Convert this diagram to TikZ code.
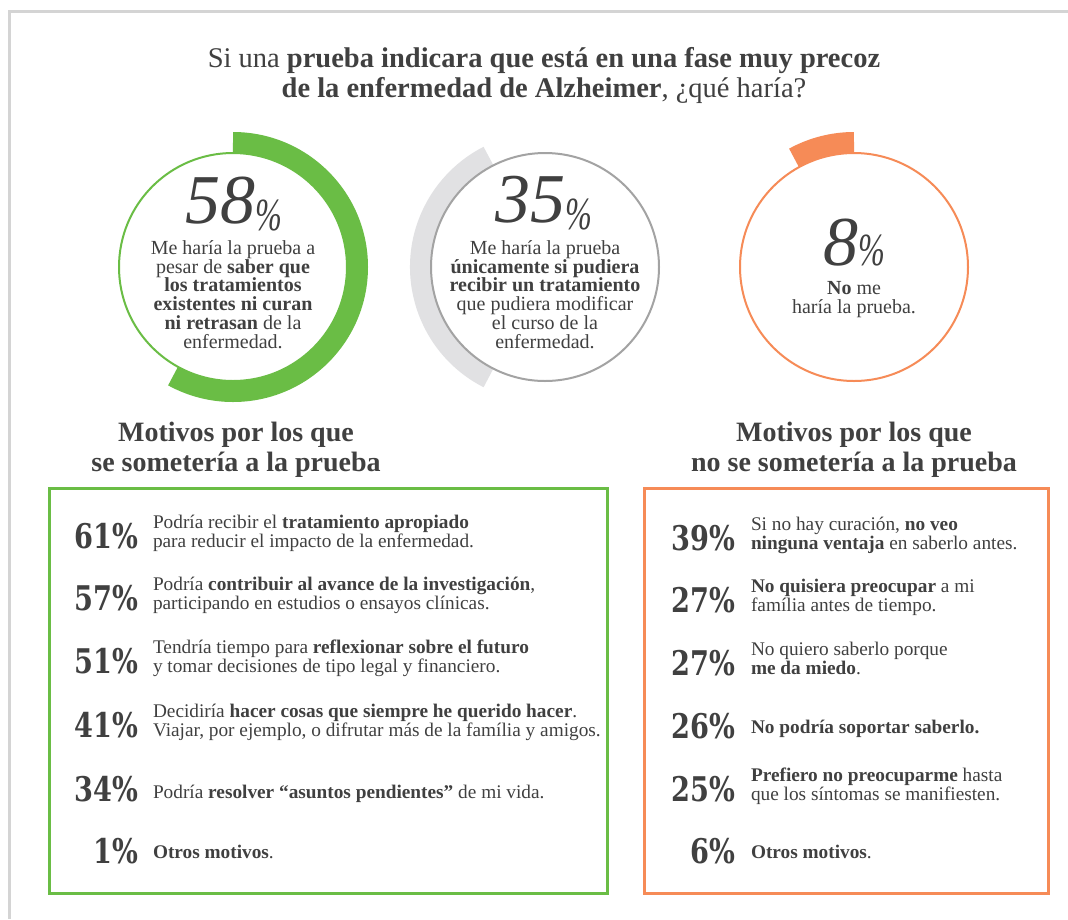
\documentclass[tikz,border=0pt]{standalone}
\usepackage{fontspec}
\setmainfont{Liberation Serif}
\newfontfamily\pctfont{DejaVu Serif}
\usepackage{graphicx}
\definecolor{txt}{HTML}{404040}
\definecolor{grn}{HTML}{6ABD45}
\definecolor{org}{HTML}{F68B57}
\definecolor{lgray}{HTML}{E1E1E3}
\definecolor{mgray}{HTML}{A3A3A3}
\definecolor{framec}{HTML}{D4D4D4}
\newcommand{\bigpct}[2][-7pt]{#2\raisebox{#1}{\scalebox{0.7}[1]{\fontsize{46}{46}\selectfont\%}}}
\newcommand{\lpct}[1]{\scalebox{0.8}[1]{\pctfont\bfseries\fontsize{34}{34}\selectfont #1\%}}
\begin{document}
\begin{tikzpicture}[x=1pt,y=-1pt,
  every node/.style={inner sep=0pt, outer sep=0pt, text=txt},
  titletxt/.style={font=\fontsize{28.5}{30}\selectfont, align=center, anchor=base},
  headtxt/.style={font=\bfseries\fontsize{28}{30}\selectfont, align=center, anchor=base},
  circtxt/.style={font=\fontsize{20}{18.7}\selectfont, align=center, anchor=base},
  bignum/.style={font=\itshape\fontsize{70}{70}\selectfont, anchor=base},
  pctnode/.style={anchor=base east},
  itemtxt/.style={font=\fontsize{19.3}{15.8}\selectfont, align=left, anchor=base west},
  thinring/.style={line width=2pt},
  band/.style={line width=21pt},
  boxline/.style={line width=3pt}
]
\useasboundingbox (0,0) rectangle (1068,919);
\fill[white] (0,0) rectangle (1068,919);
% frame
\coordinate (f1) at (1068,11);
\coordinate (f2) at (9,11);
\coordinate (f3) at (9,919);
\draw[framec, line width=3pt] (f1) -- (f2) -- (f3);

% title (anchor base = last line)
\node[titletxt] (title) at (544,97) {Si una \textbf{prueba indicara que está en una fase muy precoz}\\\textbf{de la enfermedad de Alzheimer}, ¿qué haría?};

% circles
\coordinate (c1) at (233,267);
\coordinate (c2) at (545,267);
\coordinate (c3) at (854,267);
\draw[grn, band] ([shift={(-90:124.5)}]c1) arc[start angle=-90, end angle=118.8, radius=124.5];
\draw[grn, thinring] (c1) circle[radius=114];
\draw[lgray, band] ([shift={(117:124.5)}]c2) arc[start angle=117, end angle=243, radius=124.5];
\draw[mgray, thinring] (c2) circle[radius=114];
\draw[org, band] ([shift={(-90:124.5)}]c3) arc[start angle=-90, end angle=-118.8, radius=124.5];
\draw[org, thinring] (c3) circle[radius=114];

\node[bignum] (n1) at (234,223) {\bigpct{58}};
\node[circtxt] (t1) at (233,348) {Me haría la prueba a\\pesar de \textbf{saber que}\\\textbf{los tratamientos}\\\textbf{existentes ni curan}\\\textbf{ni retrasan} de la\\enfermedad.};
\node[bignum] (n2) at (544,222) {\bigpct{35}};
\node[circtxt] (t2) at (545,348) {Me haría la prueba\\\textbf{únicamente si pudiera}\\\textbf{recibir un tratamiento}\\que pudiera modificar\\el curso de la\\enfermedad.};
\node[bignum] (n3) at (854,265) {\bigpct[0pt]{8}};
\node[circtxt] (t3) at (854,313) {\textbf{No} me\\haría la prueba.};

% headings
\node[headtxt] (h1) at (236,471) {Motivos por los que\\se sometería a la prueba};
\node[headtxt] (h2) at (854,471) {Motivos por los que\\no se sometería a la prueba};

% boxes
\draw[grn, boxline] (49,488) rectangle (607,893);
\draw[org, boxline] (644,488) rectangle (1048,893);

% left items
\node[pctnode] (p1) at (138,548) {\lpct{61}};
\node[itemtxt] (i1) at (153,547) {Podría recibir el \textbf{tratamiento apropiado}\\para reducir el impacto de la enfermedad.};
\node[pctnode] (p2) at (138,610) {\lpct{57}};
\node[itemtxt] (i2) at (153,609) {Podría \textbf{contribuir al avance de la investigación},\\participando en estudios o ensayos clínicas.};
\node[pctnode] (p3) at (138,673) {\lpct{51}};
\node[itemtxt] (i3) at (153,672) {Tendría tiempo para \textbf{reflexionar sobre el futuro}\\y tomar decisiones de tipo legal y financiero.};
\node[pctnode] (p4) at (138,737) {\lpct{41}};
\node[itemtxt] (i4) at (153,736) {Decidiría \textbf{hacer cosas que siempre he querido hacer}.\\Viajar, por ejemplo, o difrutar más de la família y amigos.};
\node[pctnode] (p5) at (138,801) {\lpct{34}};
\node[itemtxt] (i5) at (153,798) {Podría \textbf{resolver “asuntos pendientes”} de mi vida.};
\node[pctnode] (p6) at (138,863) {\lpct{1}};
\node[itemtxt] (i6) at (153,858) {\textbf{Otros motivos}.};

% right items
\node[pctnode] (q1) at (735,550) {\lpct{39}};
\node[itemtxt] (j1) at (751,549) {Si no hay curación, \textbf{no veo}\\\textbf{ninguna ventaja} en saberlo antes.};
\node[pctnode] (q2) at (735,612) {\lpct{27}};
\node[itemtxt] (j2) at (751,611) {\textbf{No quisiera preocupar} a mi\\família antes de tiempo.};
\node[pctnode] (q3) at (735,675) {\lpct{27}};
\node[itemtxt] (j3) at (751,674) {No quiero saberlo porque\\\textbf{me da miedo}.};
\node[pctnode] (q4) at (735,738) {\lpct{26}};
\node[itemtxt] (j4) at (751,733) {\textbf{No podría soportar saberlo.}};
\node[pctnode] (q5) at (735,801) {\lpct{25}};
\node[itemtxt] (j5) at (751,800) {\textbf{Prefiero no preocuparme} hasta\\que los síntomas se manifiesten.};
\node[pctnode] (q6) at (735,863) {\lpct{6}};
\node[itemtxt] (j6) at (751,858) {\textbf{Otros motivos}.};
\end{tikzpicture}
\end{document}
